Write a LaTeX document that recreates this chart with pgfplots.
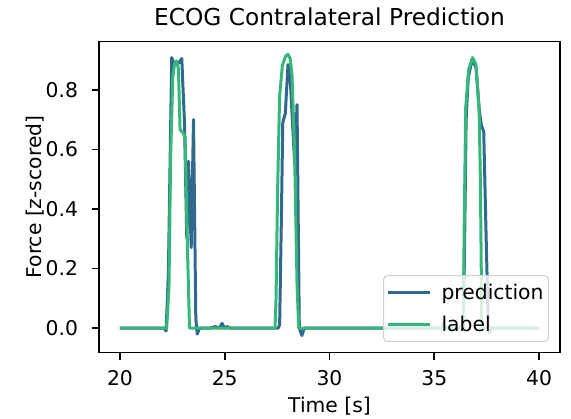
\documentclass[border=0pt]{standalone}
\usepackage{pgfplots}
\pgfplotsset{compat=1.18}
\usepackage{fontspec}
\setmainfont{DejaVu Sans}
\definecolor{predc}{HTML}{31688E}
\definecolor{labc}{HTML}{35B779}
\begin{document}
\begin{tikzpicture}
\begin{axis}[
  name=ax,
  scale only axis,
  width=461bp, height=311bp,
  xmin=19, xmax=41,
  ymin=-0.082, ymax=0.962,
  xtick={20,25,30,35,40},
  ytick={0,0.2,0.4,0.6,0.8},
  xtick pos=bottom, ytick pos=left,
  tick align=outside,
  major tick length=7bp,
  every tick/.style={black, line width=1.6bp},
  axis line style={black, line width=1.6bp},
  /pgf/number format/assume math mode=true,
  yticklabel style={/pgf/number format/fixed, /pgf/number format/fixed zerofill, /pgf/number format/precision=1, xshift=-10.5bp},
  xticklabel style={yshift=-7bp},
  tick label style={font=\fontsize{20.3bp}{24bp}\selectfont},
  title={ECOG Contralateral Prediction},
  title style={font=\fontsize{23.3bp}{28bp}\selectfont, at={(axis description cs:0.5,1)}, anchor=base, yshift=10bp},
  xlabel={Time [s]},
  ylabel={Force [z-scored]},
  label style={font=\fontsize{20.3bp}{24bp}\selectfont},
  xlabel style={at={(axis description cs:0.5,0)}, anchor=base, yshift=-59.5bp},
  ylabel style={at={(axis description cs:0,0.5)}, anchor=center, yshift=64bp},
  legend style={at={(axis description cs:0.976,0.034)}, anchor=south east,
    draw=black!18, line width=1bp, fill=white, fill opacity=0.8, text opacity=1,
    rounded corners=4bp, font=\fontsize{20.3bp}{24bp}\selectfont,
    inner xsep=3bp, inner ysep=6.5bp, row sep=11bp},
  legend cell align=left,
  legend image code/.code={\draw[#1, line width=3bp] (0bp,0bp) -- (42bp,0bp);},
]
\addplot[predc, line width=3bp, line join=round] coordinates {
(20.0,0) (22.10,0) (22.20,-0.01) (22.31,0.18) (22.47,0.908) (22.60,0.885) (22.79,0.888)
(22.95,0.905) (23.08,0.69) (23.19,0.30) (23.27,0.56) (23.40,0.27) (23.51,0.70)
(23.62,0.03) (23.69,-0.02) (23.80,0.0) (24.30,0.0) (24.55,0.005) (24.75,0.0)
(24.87,0.016) (24.99,0.0) (25.10,0.005) (25.27,0.0)
(27.55,0) (27.62,0.01) (27.70,0.35) (27.77,0.69) (27.89,0.72) (28.02,0.885) (28.13,0.83)
(28.34,0.55) (28.35,0.55) (28.45,0.75) (28.56,0.0) (28.68,-0.025) (28.80,0)
(35.40,0.0) (35.45,0.02) (35.50,0.0)
(36.39,0) (36.45,0.3) (36.52,0.70) (36.62,0.84) (36.80,0.90) (36.99,0.875) (37.15,0.73)
(37.25,0.68) (37.36,0.66) (37.46,0.35) (37.58,0.0) (37.63,-0.015) (37.70,0) (40.0,0)
};
\addlegendentry{\hspace{8bp}prediction}
\addplot[labc, line width=3bp, line join=round] coordinates {
(20.0,0) (22.23,0) (22.34,0.14) (22.42,0.58) (22.52,0.84) (22.60,0.885) (22.70,0.897)
(22.79,0.87) (22.87,0.665) (23.03,0.654) (23.11,0.64) (23.22,0.27) (23.32,0)
(27.40,0) (27.45,0.1) (27.52,0.45) (27.62,0.78) (27.75,0.88) (27.90,0.912) (28.02,0.919)
(28.12,0.905) (28.21,0.85) (28.33,0.60) (28.45,0.15) (28.53,0)
(36.38,0) (36.43,0.35) (36.50,0.74) (36.64,0.868) (36.83,0.908) (36.99,0.885)
(37.14,0.73) (37.20,0.50) (37.27,0) (40.0,0)
};
\addlegendentry{\hspace{8bp}label}
\end{axis}
\pgfresetboundingbox
\path[use as bounding box] ([shift={(-99bp,-66.5bp)}]ax.south west) rectangle ([shift={(11bp,41.5bp)}]ax.north east);
\end{tikzpicture}
\end{document}
